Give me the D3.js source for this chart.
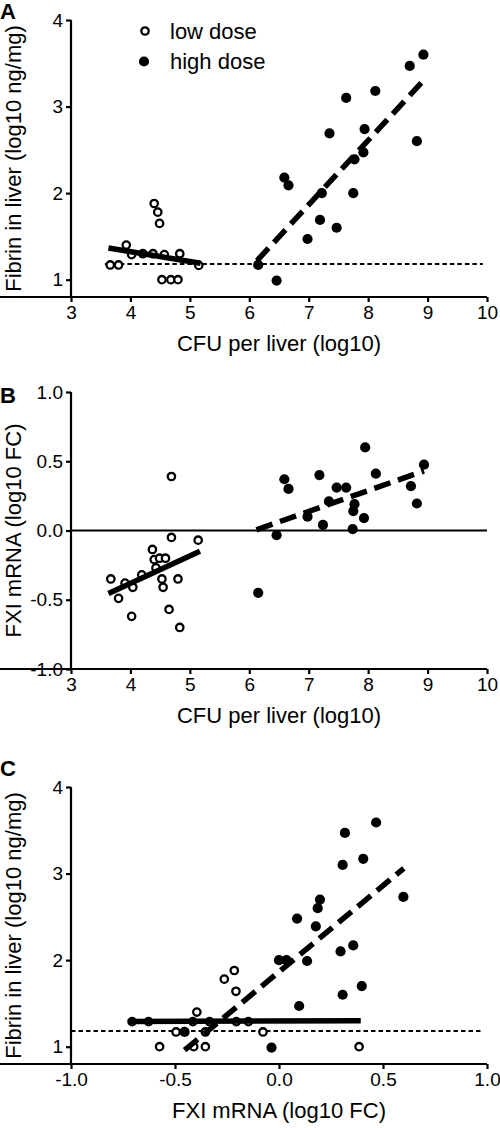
<!DOCTYPE html>
<html><head><meta charset="utf-8">
<script src="https://cdn.jsdelivr.net/npm/d3@7"></script>
<style>
html,body{margin:0;padding:0;background:#fff;}
svg{display:block;font-family:"Liberation Sans",Arial,sans-serif;}
</style></head>
<body>
<svg id="chart" width="500" height="1128"></svg>
<script>
// ---------- DATA ----------
// Panel A: CFU per liver (log10) vs Fibrin in liver (log10 ng/mg)
const aLowX  = [3.66,3.80,3.93,4.02,4.21,4.38,4.57,4.83,5.15,4.40,4.46,4.49,4.53,4.68,4.80];
const aLowY  = [1.17,1.17,1.40,1.29,1.30,1.30,1.29,1.30,1.165,1.88,1.78,1.65,1.0,1.0,1.0];
const aHighX = [8.93,8.70,8.12,7.63,7.35,7.94,8.82,7.92,7.77,6.59,6.66,7.22,7.75,7.19,7.47,6.98,6.15,6.46];
const aHighY = [3.60,3.47,3.18,3.10,2.69,2.74,2.60,2.47,2.39,2.18,2.09,2.0,2.0,1.69,1.60,1.47,1.17,0.99];
const aLowFitX = [3.63,5.18],  aLowFitY = [1.366,1.19];
const aHighFitX = [6.13,8.93], aHighFitY = [1.22,3.30];
const aRefX = [3.57,9.93], aRefY = [1.18,1.18];

// Panel B: CFU per liver (log10) vs FXI mRNA (log10 FC)
const bLowX  = [4.69,4.69,5.14,4.37,4.40,4.49,4.59,4.43,3.67,4.53,4.80,4.55,4.04,3.91,4.19,3.80,4.02,4.65,4.83];
const bLowY  = [0.39,-0.05,-0.07,-0.137,-0.21,-0.20,-0.20,-0.27,-0.35,-0.35,-0.35,-0.41,-0.41,-0.38,-0.32,-0.49,-0.62,-0.57,-0.70];
const bHighX = [7.95,8.94,8.13,7.18,6.59,6.66,7.47,7.63,8.72,7.34,7.77,7.75,8.82,7.93,6.98,7.24,7.74,6.46,6.15];
const bHighY = [0.60,0.475,0.41,0.40,0.37,0.30,0.31,0.31,0.32,0.21,0.19,0.14,0.195,0.09,0.10,0.04,0.01,-0.034,-0.45];
const bLowFitX = [3.63,5.17],  bLowFitY = [-0.455,-0.15];
const bHighFitX = [6.12,8.94], bHighFitY = [0.005,0.43];
const bRefX = [3,10], bRefY = [0,0];

// Panel C: FXI mRNA (log10 FC) vs Fibrin in liver (log10 ng/mg)
const cLowX  = [-0.706,-0.627,-0.574,-0.495,-0.414,-0.395,-0.354,-0.334,-0.41,-0.354,-0.263,-0.215,-0.207,-0.205,-0.147,-0.077,0.385];
const cLowY  = [1.29,1.29,1.0,1.17,1.29,1.40,1.17,1.29,1.0,1.0,1.78,1.88,1.64,1.29,1.29,1.17,1.0];
const cHighX = [0.467,0.317,0.405,0.306,0.598,0.197,0.186,0.087,0.177,0.357,0.296,0.0,0.036,0.135,0.398,0.306,0.097,-0.036,-0.454];
const cHighY = [3.59,3.47,3.17,3.10,2.73,2.70,2.60,2.48,2.39,2.17,2.10,2.0,2.0,1.99,1.70,1.60,1.47,0.99,1.17];
const cLowFitX = [-0.727,0.393], cLowFitY = [1.29,1.30];
const cHighFitX = [-0.454,0.60], cHighFitY = [0.96,3.06];
const cRefX = [-1,0.98], cRefY = [1.18,1.18];

// Tick values / labels
const cfuTicks = [3,4,5,6,7,8,9,10];
const fibrinTicks = [1,2,3,4];
const fcTicks = [-1.0,-0.5,0.0,0.5,1.0];
const legendLabels = ["low dose","high dose"];
const panelLabels = ["A","B","C"];
const xTitles = ["CFU per liver (log10)","CFU per liver (log10)","FXI mRNA (log10 FC)"];
const yTitles = ["Fibrin in liver (log10 ng/mg)","FXI mRNA (log10 FC)","Fibrin in liver (log10 ng/mg)"];

// ---------- DRAW ----------
const svg = d3.select("#chart");
const zip = (xs, ys) => xs.map((x,i)=>[x, ys[i]]);

function panel(cfg){
  const g = svg.append("g");
  const x = d3.scaleLinear().domain(cfg.xDomain).range([71,487]);
  const y = d3.scaleLinear().domain(cfg.yDomain).range([cfg.bottom, cfg.bottom-277]);

  // axes
  const ax = g.append("g").attr("transform",`translate(0,${cfg.bottom})`)
    .call(d3.axisBottom(x).tickValues(cfg.xTicks).tickFormat(cfg.xFmt).tickSize(5).tickSizeOuter(0).tickPadding(4));
  const ay = g.append("g").attr("transform","translate(71,0)")
    .call(d3.axisLeft(y).tickValues(cfg.yTicks).tickFormat(cfg.yFmt).tickSize(5).tickSizeOuter(0).tickPadding(3));
  [ax,ay].forEach(a=>{
    a.selectAll("path,line").attr("stroke","#000").attr("stroke-width",2.2);
    a.selectAll("text").attr("font-size",19).attr("fill","#000").attr("font-family","Liberation Sans, Arial, sans-serif");
  });
  ay.select(".domain").attr("d",`M0,${cfg.bottom+1}V${cfg.bottom-277}`);
  ax.select(".domain").attr("d",`M-1,0H${487-0}`);

  // reference line
  const line = d3.line().x(d=>x(d[0])).y(d=>y(d[1]));
  g.append("path").datum(zip(cfg.refX,cfg.refY)).attr("d",line)
    .attr("fill","none").attr("stroke","#000")
    .attr("stroke-width",cfg.refSolid?1.8:2)
    .attr("stroke-dasharray",cfg.refSolid?null:"4.5,3");

  // points
  g.append("g").selectAll("circle").data(zip(cfg.lowX,cfg.lowY)).join("circle")
    .attr("cx",d=>x(d[0])).attr("cy",d=>y(d[1])).attr("r",3.7)
    .attr("fill","#fff").attr("stroke","#000").attr("stroke-width",2.3);
  g.append("g").selectAll("circle").data(zip(cfg.highX,cfg.highY)).join("circle")
    .attr("cx",d=>x(d[0])).attr("cy",d=>y(d[1])).attr("r",5.1)
    .attr("fill","#000");

  // fit lines
  g.append("path").datum(zip(cfg.lowFitX,cfg.lowFitY)).attr("d",line)
    .attr("fill","none").attr("stroke","#000").attr("stroke-width",5.5);
  g.append("path").datum(zip(cfg.highFitX,cfg.highFitY)).attr("d",line)
    .attr("fill","none").attr("stroke","#000").attr("stroke-width",5.5)
    .attr("stroke-dasharray","17,8");

  // titles
  g.append("text").attr("x",279).attr("y",cfg.bottom+54).attr("text-anchor","middle")
    .attr("font-size",22).text(cfg.xTitle);
  g.append("text").attr("transform",`translate(21,${cfg.bottom-138.5}) rotate(-90)`)
    .attr("text-anchor","middle").attr("font-size",22).text(cfg.yTitle);
  g.append("text").attr("x",0).attr("y",cfg.labelY).attr("font-size",22)
    .attr("font-weight","bold").text(cfg.label);
  return {x,y,g};
}

const fmtInt = d3.format("d"), fmt1 = d3.format(".1f");
const fmtFC = d => fmt1(d).replace("\u2212","-");

const A = panel({xDomain:[3,10],yDomain:[0.8,4],bottom:297,xTicks:cfuTicks,yTicks:fibrinTicks,
  xFmt:fmtInt,yFmt:fmtInt,lowX:aLowX,lowY:aLowY,highX:aHighX,highY:aHighY,
  lowFitX:aLowFitX,lowFitY:aLowFitY,highFitX:aHighFitX,highFitY:aHighFitY,
  refX:aRefX,refY:aRefY,refSolid:false,xTitle:xTitles[0],yTitle:yTitles[0],label:panelLabels[0],labelY:19});
panel({xDomain:[3,10],yDomain:[-1,1],bottom:669,xTicks:cfuTicks,yTicks:fcTicks,
  xFmt:fmtInt,yFmt:fmtFC,lowX:bLowX,lowY:bLowY,highX:bHighX,highY:bHighY,
  lowFitX:bLowFitX,lowFitY:bLowFitY,highFitX:bHighFitX,highFitY:bHighFitY,
  refX:bRefX,refY:bRefY,refSolid:true,xTitle:xTitles[1],yTitle:yTitles[1],label:panelLabels[1],labelY:403});
panel({xDomain:[-1,1],yDomain:[0.8,4],bottom:1064,xTicks:fcTicks,yTicks:fibrinTicks,
  xFmt:fmtFC,yFmt:fmtInt,lowX:cLowX,lowY:cLowY,highX:cHighX,highY:cHighY,
  lowFitX:cLowFitX,lowFitY:cLowFitY,highFitX:cHighFitX,highFitY:cHighFitY,
  refX:cRefX,refY:cRefY,refSolid:false,xTitle:xTitles[2],yTitle:yTitles[2],label:panelLabels[2],labelY:776});

// legend (panel A)
const leg = A.g.append("g");
leg.append("circle").attr("cx",145).attr("cy",31).attr("r",3.7)
  .attr("fill","#fff").attr("stroke","#000").attr("stroke-width",2.3);
leg.append("circle").attr("cx",144).attr("cy",61.5).attr("r",5.1).attr("fill","#000");
leg.append("text").attr("x",170).attr("y",39).attr("font-size",22).text(legendLabels[0]);
leg.append("text").attr("x",170).attr("y",69).attr("font-size",22).text(legendLabels[1]);
</script>
</body></html>
